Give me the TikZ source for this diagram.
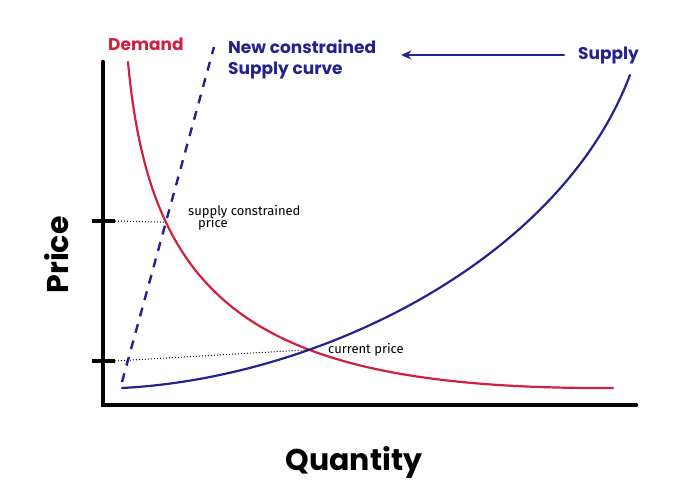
\documentclass[tikz,border=0pt]{standalone}
\usepackage{fontspec}
\setmainfont{Poppins}
\newfontfamily\smallhand{Fira Sans}
\usetikzlibrary{arrows.meta,intersections}
\definecolor{dred}{RGB}{208,32,62}
\definecolor{dblue}{RGB}{36,34,140}
\tikzset{
  axisline/.style={line width=4.5pt, black, line cap=round},
  tickmark/.style={line width=4pt, black},
  demandline/.style={line width=2.2pt, dred, line cap=round},
  supplyline/.style={line width=2.2pt, dblue, line cap=round},
  newsupply/.style={line width=2.4pt, dblue, dash pattern=on 9pt off 8pt},
  guide/.style={line width=1pt, black, dotted},
  biglbl/.style={font=\bfseries\fontsize{30}{32}\selectfont, text=black, inner sep=0pt},
  redlbl/.style={font=\bfseries\fontsize{17}{18}\selectfont, text=dred, inner sep=0pt},
  bluelbl/.style={font=\bfseries\fontsize{17}{21}\selectfont, text=dblue, inner sep=0pt, align=left},
  notelbl/.style={font=\smallhand\fontsize{13}{12}\selectfont, text=black, inner sep=0pt, align=left},
}
\begin{document}
\begin{tikzpicture}[x=1pt,y=-1pt]
\useasboundingbox (0,0) rectangle (678,502);
% axes
\coordinate (origin) at (103,405);
\coordinate (ytop) at (103,62);
\coordinate (xend) at (636,405);
\draw[axisline] (ytop) -- (origin) -- (xend);
% ticks
\coordinate (tickA) at (103,221);
\coordinate (tickB) at (103,361);
\draw[tickmark] (92,221) -- (115,221);
\draw[tickmark] (92,361) -- (115,361);
% demand
\coordinate (dstart) at (128,62);
\coordinate (dend) at (613,388);
\draw[demandline, name path=demand] (dstart) .. controls (150,300) and (250,390) .. (dend);
% supply
\coordinate (sstart) at (122,388);
\coordinate (send) at (630,75);
\draw[supplyline, name path=supply] (sstart) .. controls (320,378) and (560,260) .. (send);
% new constrained supply
\coordinate (nstart) at (122,382);
\coordinate (nend) at (214,47);
\draw[newsupply, name path=newsup] (nstart) -- (nend);
% intersections
\path[name intersections={of=demand and newsup, by=crossA}];
\path[name intersections={of=demand and supply, by=crossB}];
\draw[guide] ([xshift=12pt]tickA) -- (crossA);
\draw[guide] ([xshift=12pt]tickB) -- (crossB);
% labels
\node[redlbl, anchor=south west] (demandlbl) at (108,51) {Demand};
\node[bluelbl, anchor=north west] (newlbl) at (228,40) {New constrained\\Supply curve};
\node[bluelbl, anchor=west] (supplylbl) at (578,55) {Supply};
\draw[supplyline, -{Stealth[length=10pt,width=9pt]}] ([xshift=-14pt]supplylbl.west) -- ([xshift=25pt]newlbl.north east |- supplylbl.west);
\node[notelbl, anchor=west] (scnote) at (188,218) {supply constrained\\[-2pt]\hspace*{10pt}price};
\node[notelbl, anchor=west] (cpnote) at (328,350) {current price};
\node[biglbl, rotate=90] (pricelbl) at (57,255) {Price};
\node[biglbl] (qtylbl) at (354,462) {Quantity};
\end{tikzpicture}
\end{document}
